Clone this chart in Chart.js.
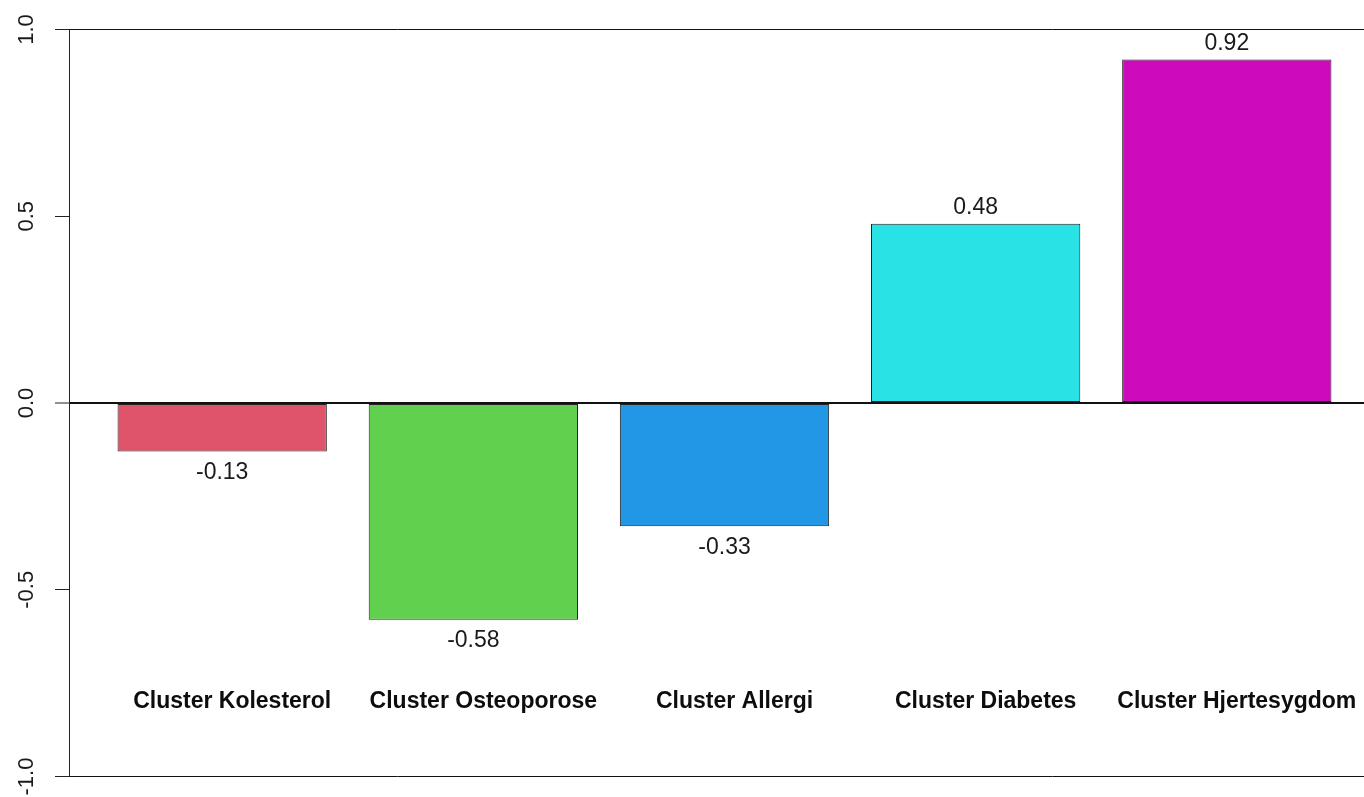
<!DOCTYPE html>
<html>
<head>
<meta charset="utf-8">
<script src="https://cdn.jsdelivr.net/npm/chart.js@4.4.0/dist/chart.umd.min.js"></script>
<style>
  html, body { margin: 0; padding: 0; background: #fff; overflow: hidden; }
  #wrap { width: 1364px; height: 797px; overflow: hidden; }
  canvas { display: block; }
</style>
</head>
<body>
<div id="wrap"><canvas id="c" width="1380" height="797"></canvas></div>
<script>
const categories = ['Cluster Kolesterol', 'Cluster Osteoporose', 'Cluster Allergi', 'Cluster Diabetes', 'Cluster Hjertesygdom'];
const values = [-0.13, -0.58, -0.33, 0.48, 0.92];
const barColors = ['#DF536B', '#61D04F', '#2297E6', '#28E2E5', '#CD0BBC'];
const yTicks = [-1, -0.5, 0, 0.5, 1];
const yTickLabels = ['-1.0', '-0.5', '0.0', '0.5', '1.0'];

// barplot-style layout: unit-width bars separated by 0.2, axis extended by 4%
const BAR_W = 1, SPACE = 0.2;
const mids = categories.map((_, i) => SPACE + i * (BAR_W + SPACE) + BAR_W / 2);
const xLo = SPACE, xHi = categories.length * (BAR_W + SPACE);
const ext = 0.04 * (xHi - xLo);

const FONT = '"Liberation Sans", Arial, Helvetica, sans-serif';

const annotations = {
  id: 'annotations',
  afterDraw(chart) {
    const ctx = chart.ctx;
    const y = chart.scales.y;
    const bars = chart.getDatasetMeta(0).data;
    ctx.save();
    ctx.textAlign = 'center';
    ctx.textBaseline = 'middle';

    // rotated y-axis labels
    ctx.fillStyle = '#1a1a1a';
    ctx.font = '22px ' + FONT;
    yTicks.forEach((v, i) => {
      ctx.save();
      ctx.translate(27, y.getPixelForValue(v));
      ctx.rotate(-Math.PI / 2);
      ctx.fillText(yTickLabels[i], 0, 0);
      ctx.restore();
    });

    // value labels above / below each bar
    ctx.font = '23px ' + FONT;
    bars.forEach((bar, i) => {
      const v = values[i];
      const ty = v >= 0 ? bar.y - 16 : bar.y + 21;
      ctx.fillText(v.toFixed(2), bar.x, ty);
    });

    // category names in the lower part of the plot
    ctx.fillStyle = '#0d0d0d';
    ctx.font = 'bold 23px ' + FONT;
    const ly = y.getPixelForValue(-0.8);
    bars.forEach((bar, i) => {
      ctx.fillText(categories[i], bar.x + 10, ly);
    });
    ctx.restore();
  }
};

new Chart(document.getElementById('c'), {
  type: 'bar',
  data: {
    datasets: [{
      data: values.map((v, i) => ({ x: mids[i], y: v })),
      backgroundColor: barColors,
      borderColor: '#222',
      borderWidth: 1,
      borderSkipped: false,
      barPercentage: BAR_W / (BAR_W + SPACE),
      categoryPercentage: 1
    }]
  },
  options: {
    responsive: false,
    animation: false,
    devicePixelRatio: 1,
    layout: { padding: { top: 29.5, bottom: 20.5, left: 0, right: 0 } },
    plugins: { legend: { display: false }, tooltip: { enabled: false } },
    scales: {
      x: {
        type: 'linear', display: false, min: xLo - ext, max: xHi + ext, offset: false,
        // one tick per bar so the bar ruler uses the bar spacing
        afterBuildTicks(s) { s.ticks = mids.map(v => ({ value: v })); }
      },
      y: {
        min: -1, max: 1, z: 1,
        afterBuildTicks(s) { s.ticks = yTicks.map(v => ({ value: v })); },
        afterFit(s) { s.width = 69; },
        ticks: { display: false },
        grid: {
          color: c => (c.tick && Math.abs(c.tick.value) !== 0.5) ? '#111' : 'rgba(0,0,0,0)',
          lineWidth: c => (c.tick && c.tick.value === 0) ? 2 : 1,
          tickColor: '#222',
          tickWidth: 1,
          tickLength: 14,
          drawTicks: true
        },
        border: { display: true, color: '#222', width: 1 }
      }
    }
  },
  plugins: [annotations]
});
</script>
</body>
</html>
